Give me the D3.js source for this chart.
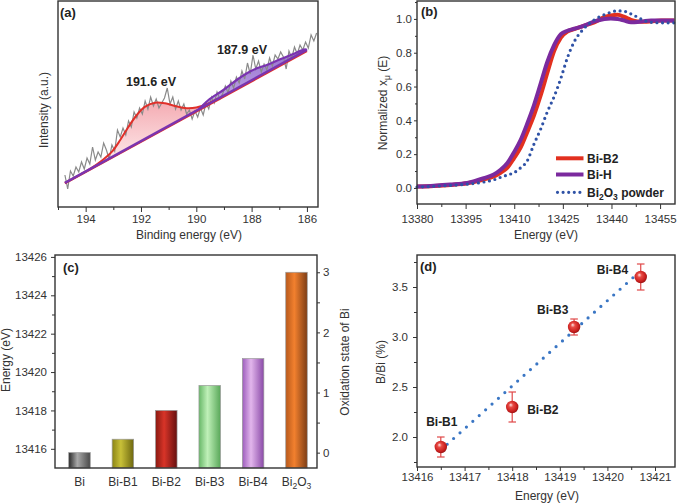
<!DOCTYPE html>
<html><head><meta charset="utf-8">
<script src="https://cdn.jsdelivr.net/npm/d3@7"></script>
<style>
body{margin:0;background:#fff;}
svg{display:block;font-family:"Liberation Sans",Arial,sans-serif;}
</style></head><body>
<svg id="chart" width="677" height="504"></svg>
<script>
// ---------- DATA ----------
// (a) XPS B 1s
const xpsGridStart = 194.75, xpsGridStep = 0.1;
const xpsRaw = [32,18,36,31,40,35,45,38,49,43,60,47,55,50,64,57,48,62,56,77,70,79,72,86,80,95,89,99,93,106,98,110,101,108,99,104,109,119,103,110,98,106,97,103,93,97,88,96,90,99,92,104,98,110,104,115,108,113,121,114,126,119,130,124,136,128,144,133,152,138,146,135,143,137,149,141,152,148,155,150,138,156,149,160,153,162,157,165,159,172,166,174];
const xpsFitRed = [[194.75,24.1],[194.2,32.5],[193.8,38.8],[193.41,46.5],[193.05,55.3],[192.75,67],[192.45,80.3],[192.15,92],[191.85,100.3],[191.49,104.3],[191.13,103.7],[190.77,101],[190.35,98.7],[190.0,99.4],[189.6,103],[189.2,108.5]];
const xpsFitPurple = [[189.9,97.8],[189.56,107],[189.02,117],[188.54,127],[188.17,133.7],[187.81,138.7],[187.45,142],[186.97,147.7],[186.49,153],[186.07,157.7],[186.0,157.1]];
const xpsBackground = [[194.75,24.1],[186.0,157.1]];
const xpsBackgroundRed = [[194.75,23.6],[186.0,155.8]];
const xpsPeakLabels = ["191.6 eV","187.9 eV"];
const xpsTicks = [194,192,190,188,186];
const xpsMinorTicks = [195,193,191,189,187];

// (b) XANES
const xanesEnergy = [13380,13385.2,13390.3,13395.5,13400.6,13403.7,13405.8,13407.9,13409.9,13412.0,13414.0,13416.1,13418.2,13420.2,13422.3,13424.4,13426.4,13428.5,13431.6,13434.7,13437.8,13439.8,13441.9,13444.0,13446.0,13448.1,13450.1,13452.2,13455.3,13459.4];
const xanesBiB2 = [0.008,0.012,0.018,0.028,0.05,0.068,0.09,0.12,0.175,0.24,0.33,0.43,0.55,0.68,0.81,0.89,0.925,0.94,0.96,0.98,1.01,1.02,1.024,1.012,0.995,0.985,0.983,0.985,0.99,0.99];
const xanesBiH = [0.008,0.013,0.02,0.03,0.058,0.08,0.108,0.148,0.21,0.285,0.38,0.49,0.62,0.745,0.845,0.91,0.93,0.942,0.96,0.985,1.0,1.003,1.0,0.99,0.98,0.982,0.987,0.99,0.99,0.99];
const xanesBi2O3 = [0.005,0.01,0.015,0.022,0.035,0.048,0.063,0.077,0.09,0.12,0.16,0.26,0.35,0.45,0.54,0.65,0.77,0.865,0.945,0.995,1.025,1.04,1.048,1.045,1.03,1.01,0.99,0.98,0.977,0.977];
const xanesXTicks = [13380,13395,13410,13425,13440,13455];
const xanesYTicks = [0,0.2,0.4,0.6,0.8,1.0];
const xanesLegend = ["Bi-B2","Bi-H","Bi2O3 powder"];

// (c) edge energies
const edgeCategories = ["Bi","Bi-B1","Bi-B2","Bi-B3","Bi-B4","Bi2O3"];
const edgeEnergy = [13415.8,13416.5,13418.0,13419.3,13420.7,13425.2];
const edgeTicks = [13416,13418,13420,13422,13424,13426];
const oxidationTicks = [0,1,2,3];

// (d) B/Bi vs energy
const sampleNames = ["Bi-B1","Bi-B2","Bi-B3","Bi-B4"];
const sampleEnergy = [13416.5,13418.0,13419.3,13420.7];
const sampleBBi = [1.9,2.3,3.1,3.6];
const sampleErr = [0.1,0.15,0.08,0.13];
const fitLine = [[13416.5,1.87],[13420.6,3.62]];
const dXTicks = [13416,13417,13418,13419,13420,13421];
const dYTicks = [2.0,2.5,3.0,3.5];

// ---------- STYLE ----------
const TXT = "#333", FRAME = "#333";
const barColors = [["#2a2a2a","#a8a8a8","#4a4a4a"],["#8a8414","#c8c038","#6e6810"],["#8a1a12","#d83428","#661010"],["#68b868","#bff0b8","#5aa85a"],["#9c5cbc","#e2b6ec","#8a4aa8"],["#b85a1c","#f2802e","#7e3e16"]];

const svg = d3.select("#chart");
const defs = svg.append("defs");

function styleAxis(g, fs) {
  g.select(".domain").remove();
  g.attr("font-family", null).attr("font-size", null);
  g.selectAll(".tick line").attr("stroke", FRAME).attr("stroke-width", 1);
  g.selectAll(".tick text").attr("fill", TXT).style("font-size", (fs || 11.5) + "px");
}
function axis(kind, scale, tr, majors, minors, fmt, majLen, minLen, pad) {
  const mk = {bottom: d3.axisBottom, left: d3.axisLeft, right: d3.axisRight}[kind];
  if (minors && minors.length) {
    svg.append("g").attr("transform", tr)
      .call(mk(scale).tickValues(minors).tickSize(minLen).tickFormat(""))
      .call(g => styleAxis(g));
  }
  svg.append("g").attr("transform", tr)
    .call(mk(scale).tickValues(majors).tickSize(majLen).tickPadding(pad).tickFormat(fmt))
    .call(g => styleAxis(g));
}
function frame(x0, y0, x1, y1) {
  svg.append("rect").attr("x", x0).attr("y", y0).attr("width", x1 - x0).attr("height", y1 - y0)
    .attr("fill", "none").attr("stroke", FRAME).attr("stroke-width", 1.4);
}
function hText(x, y, str, anchor, size, bold) {
  return svg.append("text").attr("x", x).attr("y", y).attr("text-anchor", anchor || "middle")
    .attr("fill", TXT).style("font-size", (size || 12) + "px").style("font-weight", bold ? "bold" : "normal").text(str);
}
function vText(x, y, str, size) {
  return svg.append("text").attr("transform", `translate(${x},${y}) rotate(-90)`).attr("text-anchor", "middle")
    .attr("fill", TXT).style("font-size", (size || 12) + "px").text(str);
}
function subLabel(sel, str, subSize) {
  sel.text(null);
  const parts = str.match(/[A-Za-z\- ]+|\d+/g);
  let sub = false;
  parts.forEach((p, i) => {
    const isNum = /^\d+$/.test(p) && i > 0;
    const t = sel.append("tspan").text(p);
    if (isNum && !sub) { t.attr("dy", 3).style("font-size", subSize + "px"); sub = true; }
    else if (!isNum && sub) { t.attr("dy", -3); sub = false; }
  });
}

// ================= (a) =================
const aX = d3.scaleLinear().domain([195, 185.6]).range([58, 318]);
const aY = d3.scaleLinear().domain([0, 205]).range([207, 2]);
const bg = d3.scaleLinear().domain(xpsBackground.map(d => d[0])).range(xpsBackground.map(d => d[1]));

const gRed = defs.append("linearGradient").attr("id", "gRed").attr("x1", 0).attr("y1", 0).attr("x2", 0).attr("y2", 1);
gRed.append("stop").attr("offset", "0%").attr("stop-color", "#f08a94").attr("stop-opacity", 0.75);
gRed.append("stop").attr("offset", "100%").attr("stop-color", "#fff4f4").attr("stop-opacity", 0.6);
const gPur = defs.append("linearGradient").attr("id", "gPur").attr("x1", 0).attr("y1", 0).attr("x2", 0).attr("y2", 1);
gPur.append("stop").attr("offset", "0%").attr("stop-color", "#8a5ccc").attr("stop-opacity", 0.9);
gPur.append("stop").attr("offset", "100%").attr("stop-color", "#b49ae0").attr("stop-opacity", 0.8);

const rawPts = xpsRaw.map((v, i) => [xpsGridStart - i * xpsGridStep, v]);
const areaA = d3.area().x(d => aX(d[0])).y0(d => aY(bg(d[0]))).y1(d => aY(d[1])).curve(d3.curveCatmullRom);
const lineA = d3.line().x(d => aX(d[0])).y(d => aY(d[1]));
const curveA = d3.line().x(d => aX(d[0])).y(d => aY(d[1])).curve(d3.curveCatmullRom);

svg.append("path").attr("d", areaA(xpsFitRed)).attr("fill", "url(#gRed)");
svg.append("path").attr("d", areaA(xpsFitPurple)).attr("fill", "url(#gPur)");
svg.append("path").attr("d", lineA(rawPts)).attr("fill", "none").attr("stroke", "#8a8a8a").attr("stroke-width", 1.2);
svg.append("path").attr("d", lineA(xpsBackgroundRed)).attr("fill", "none").attr("stroke", "#e0302a").attr("stroke-width", 2);
svg.append("path").attr("d", curveA(xpsFitRed)).attr("fill", "none").attr("stroke", "#e0302a").attr("stroke-width", 2);
svg.append("path").attr("d", lineA(xpsBackground)).attr("fill", "none").attr("stroke", "#7a34b0").attr("stroke-width", 2.4);
svg.append("path").attr("d", curveA(xpsFitPurple)).attr("fill", "none").attr("stroke", "#7a34b0").attr("stroke-width", 2.2);

frame(58, 1, 318, 207);
axis("bottom", aX, "translate(0,207)", xpsTicks, xpsMinorTicks, d3.format("d"), 5, 3, 3);
hText(151, 86, xpsPeakLabels[0], "middle", 12.5, true).attr("fill", "#222");
hText(242, 53.5, xpsPeakLabels[1], "middle", 12.5, true).attr("fill", "#222");
hText(60, 17, "(a)", "start", 13, true).attr("fill", "#222");
hText(189, 239, "Binding energy (eV)");
vText(48, 110, "Intensity (a.u.)");

// ================= (b) =================
const bX = d3.scaleLinear().domain([13380, 13459.6]).range([417, 675]);
const bY = d3.scaleLinear().domain([-0.095, 1.112]).range([204, 0]);
const lineB = d3.line().x(d => bX(d[0])).y(d => bY(d[1])).curve(d3.curveMonotoneX);
const ser = arr => xanesEnergy.map((e, i) => [e, arr[i]]);
svg.append("path").attr("d", lineB(ser(xanesBiB2))).attr("fill", "none").attr("stroke", "#e2301f").attr("stroke-width", 4);
svg.append("path").attr("d", lineB(ser(xanesBiH))).attr("fill", "none").attr("stroke", "#7b2a9e").attr("stroke-width", 4);
svg.append("path").attr("d", lineB(ser(xanesBi2O3))).attr("fill", "none").attr("stroke", "#2f52a6")
  .attr("stroke-width", 3.2).attr("stroke-linecap", "round").attr("stroke-dasharray", "0 5.6");
frame(417, 1, 675, 204);
axis("bottom", bX, "translate(0,204)", xanesXTicks, xanesXTicks.map(t => t + 7.5), d3.format("d"), 5, 3, 6);
axis("left", bY, "translate(417,0)", xanesYTicks, [0.1,0.3,0.5,0.7,0.9,1.1], d3.format(".1f"), 3, 2, 2);
hText(421, 16, "(b)", "start", 13, true).attr("fill", "#222");
hText(546, 239, "Energy (eV)");
{
  const t = svg.append("text").attr("transform", "translate(387,103) rotate(-90)").attr("text-anchor", "middle")
    .attr("fill", TXT).style("font-size", "12px");
  t.append("tspan").text("Normalized x");
  t.append("tspan").attr("dy", 3).style("font-size", "8.5px").text("\u03bc");
  t.append("tspan").attr("dy", -3).text(" (E)");
}
const legStyles = [{c: "#e2301f", w: 4, dash: null}, {c: "#7b2a9e", w: 4, dash: null}, {c: "#2f52a6", w: 3.2, dash: "0 5.6"}];
const legY = [158.3, 174.5, 192.3];
xanesLegend.forEach((name, i) => {
  const s = legStyles[i];
  const l = svg.append("line").attr("x1", s.dash ? 557.5 : 556).attr("x2", 583.5).attr("y1", legY[i]).attr("y2", legY[i])
    .attr("stroke", s.c).attr("stroke-width", s.w);
  if (s.dash) l.attr("stroke-dasharray", s.dash).attr("stroke-linecap", "round");
  const t = hText(587, legY[i] + 4.3, name, "start", 12, true).attr("fill", "#222");
  if (name.startsWith("Bi2O3")) subLabel(t, name, 8.5);
});

// ================= (c) =================
const cX = d3.scalePoint().domain(edgeCategories).range([79.5, 296.5]);
const cY = d3.scaleLinear().domain([13415, 13426.1]).range([468, 255]);
const cY2 = d3.scaleLinear().domain([0, 3]).range([cY(edgeEnergy[0]), cY(edgeEnergy[edgeEnergy.length - 1])]);
edgeCategories.forEach((c, i) => {
  const g = defs.append("linearGradient").attr("id", "bar" + i).attr("x1", 0).attr("x2", 1).attr("y1", 0).attr("y2", 0);
  g.append("stop").attr("offset", "0%").attr("stop-color", barColors[i][0]);
  g.append("stop").attr("offset", "40%").attr("stop-color", barColors[i][1]);
  g.append("stop").attr("offset", "100%").attr("stop-color", barColors[i][2]);
});
const bw = 21.5;
svg.selectAll("rect.bar").data(edgeEnergy).join("rect").attr("class", "bar")
  .attr("x", (d, i) => cX(edgeCategories[i]) - bw / 2).attr("width", bw)
  .attr("y", d => cY(d)).attr("height", d => cY.range()[0] - cY(d))
  .attr("fill", (d, i) => `url(#bar${i})`).attr("stroke", "#999").attr("stroke-width", 0.7);
frame(55, 255, 317, 468);
axis("left", cY, "translate(55,0)", edgeTicks, [13417,13419,13421,13423,13425], d3.format("d"), 4, 3, 4);
axis("right", cY2, "translate(317,0)", oxidationTicks, [0.5,1.5,2.5], d3.format("d"), 3, 3, 3);
edgeCategories.forEach(c => {
  const t = hText(cX(c), 486, c, "middle", 12);
  if (c === "Bi2O3") subLabel(t, c, 8.5);
});
hText(63, 272, "(c)", "start", 13, true).attr("fill", "#222");
vText(10, 360, "Energy (eV)");
vText(349, 362, "Oxidation state of Bi");

// ================= (d) =================
const dX = d3.scaleLinear().domain([13416, 13421.42]).range([417, 675]);
const dY = d3.scaleLinear().domain([1.7, 3.82]).range([467, 255]);
const sph = defs.append("radialGradient").attr("id", "sph").attr("cx", "45%").attr("cy", "45%").attr("r", "60%").attr("fx", "38%").attr("fy", "32%");
sph.append("stop").attr("offset", "0%").attr("stop-color", "#ffe4e4");
sph.append("stop").attr("offset", "30%").attr("stop-color", "#e84a44");
sph.append("stop").attr("offset", "75%").attr("stop-color", "#c81e1e");
sph.append("stop").attr("offset", "100%").attr("stop-color", "#8a0e0e");
svg.append("path").attr("d", d3.line().x(d => dX(d[0])).y(d => dY(d[1]))(fitLine))
  .attr("fill", "none").attr("stroke", "#3a76c4").attr("stroke-width", 3.2)
  .attr("stroke-linecap", "round").attr("stroke-dasharray", "0 8.6");
const errG = svg.append("g").attr("stroke", "#e04848").attr("stroke-width", 1.2);
sampleEnergy.forEach((e, i) => {
  const x = dX(e), y1 = dY(sampleBBi[i] - sampleErr[i]), y2 = dY(sampleBBi[i] + sampleErr[i]);
  errG.append("line").attr("x1", x).attr("x2", x).attr("y1", y1).attr("y2", y2);
  errG.append("line").attr("x1", x - 3.8).attr("x2", x + 3.8).attr("y1", y1).attr("y2", y1);
  errG.append("line").attr("x1", x - 3.8).attr("x2", x + 3.8).attr("y1", y2).attr("y2", y2);
});
svg.selectAll("circle.pt").data(sampleBBi).join("circle").attr("class", "pt")
  .attr("cx", (d, i) => dX(sampleEnergy[i])).attr("cy", d => dY(d)).attr("r", 6.2).attr("fill", "url(#sph)");
const labOff = [[1, -21.4, "middle"], [15, 6.6, "start"], [-21.3, -13.4, "middle"], [-28.2, -2.7, "middle"]];
sampleNames.forEach((n, i) => {
  hText(dX(sampleEnergy[i]) + labOff[i][0], dY(sampleBBi[i]) + labOff[i][1], n, labOff[i][2], 12, true).attr("fill", "#222");
});
frame(417, 255, 675, 467);
axis("bottom", dX, "translate(0,467)", dXTicks, [13416.5,13417.5,13418.5,13419.5,13420.5], d3.format("d"), 4, 3, 2);
axis("left", dY, "translate(417,0)", dYTicks, [1.75,2.25,2.75,3.25,3.75], d3.format(".1f"), 4, 3, 5);
hText(420, 271, "(d)", "start", 13, true).attr("fill", "#222");
hText(547, 500, "Energy (eV)");
vText(385, 362, "B/Bi (%)");
</script>
</body></html>
